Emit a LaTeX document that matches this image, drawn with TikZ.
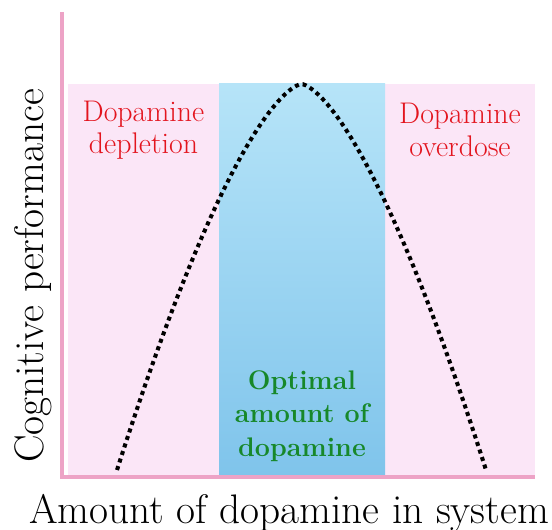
\documentclass[tikz,border=0pt]{standalone}
\usepackage{tikz}
\usetikzlibrary{positioning}

\definecolor{axispink}{HTML}{EDA3C6}
\definecolor{zonepink}{HTML}{FBE6F7}
\definecolor{zonetop}{HTML}{B6E4F8}
\definecolor{zonebot}{HTML}{7FC4EB}
\definecolor{warnred}{HTML}{E3141E}
\definecolor{okgreen}{HTML}{17882A}

\begin{document}
\begin{tikzpicture}[x=0.02cm,y=0.02cm,
  axislbl/.style={inner sep=0pt,font=\fontsize{23.5}{26}\selectfont},
  zonelbl/.style={align=center,inner sep=0pt,text=warnred,font=\fontsize{17}{18.5}\selectfont},
  bestlbl/.style={align=center,inner sep=0pt,text=okgreen,font=\fontsize{15.3}{19}\selectfont\bfseries}]
  \useasboundingbox (0,0) rectangle (552,530);
  % zones
  \fill[zonepink] (68,53) rectangle (535,446);
  \shade[top color=zonetop,bottom color=zonebot] (219,53) rectangle (385,446);
  % axes
  \draw[axispink,line width=1.8pt] (62,518)--(62,53)--(535,53);
  % inverted U
  \draw[line width=2.3pt,dash pattern=on 2.3pt off 2.2pt]
    plot[domain=-1:1,samples=120,smooth] ({301.5+184.5*\x},{446-386*abs(\x)*sqrt(abs(\x))});
  \node[axislbl,rotate=90] (ylabel) at (33,254) {Cognitive performance};
  \node[axislbl] (xlabel) at (289,17) {Amount of dopamine in system};
  \node[zonelbl] (depletion) at (143.5,400) {Dopamine\\depletion};
  \node[zonelbl] (overdose) at (460,400) {Dopamine\\overdose};
  \node[bestlbl] (optimal) at (302,114) {Optimal\\amount of\\dopamine};
\end{tikzpicture}
\end{document}
